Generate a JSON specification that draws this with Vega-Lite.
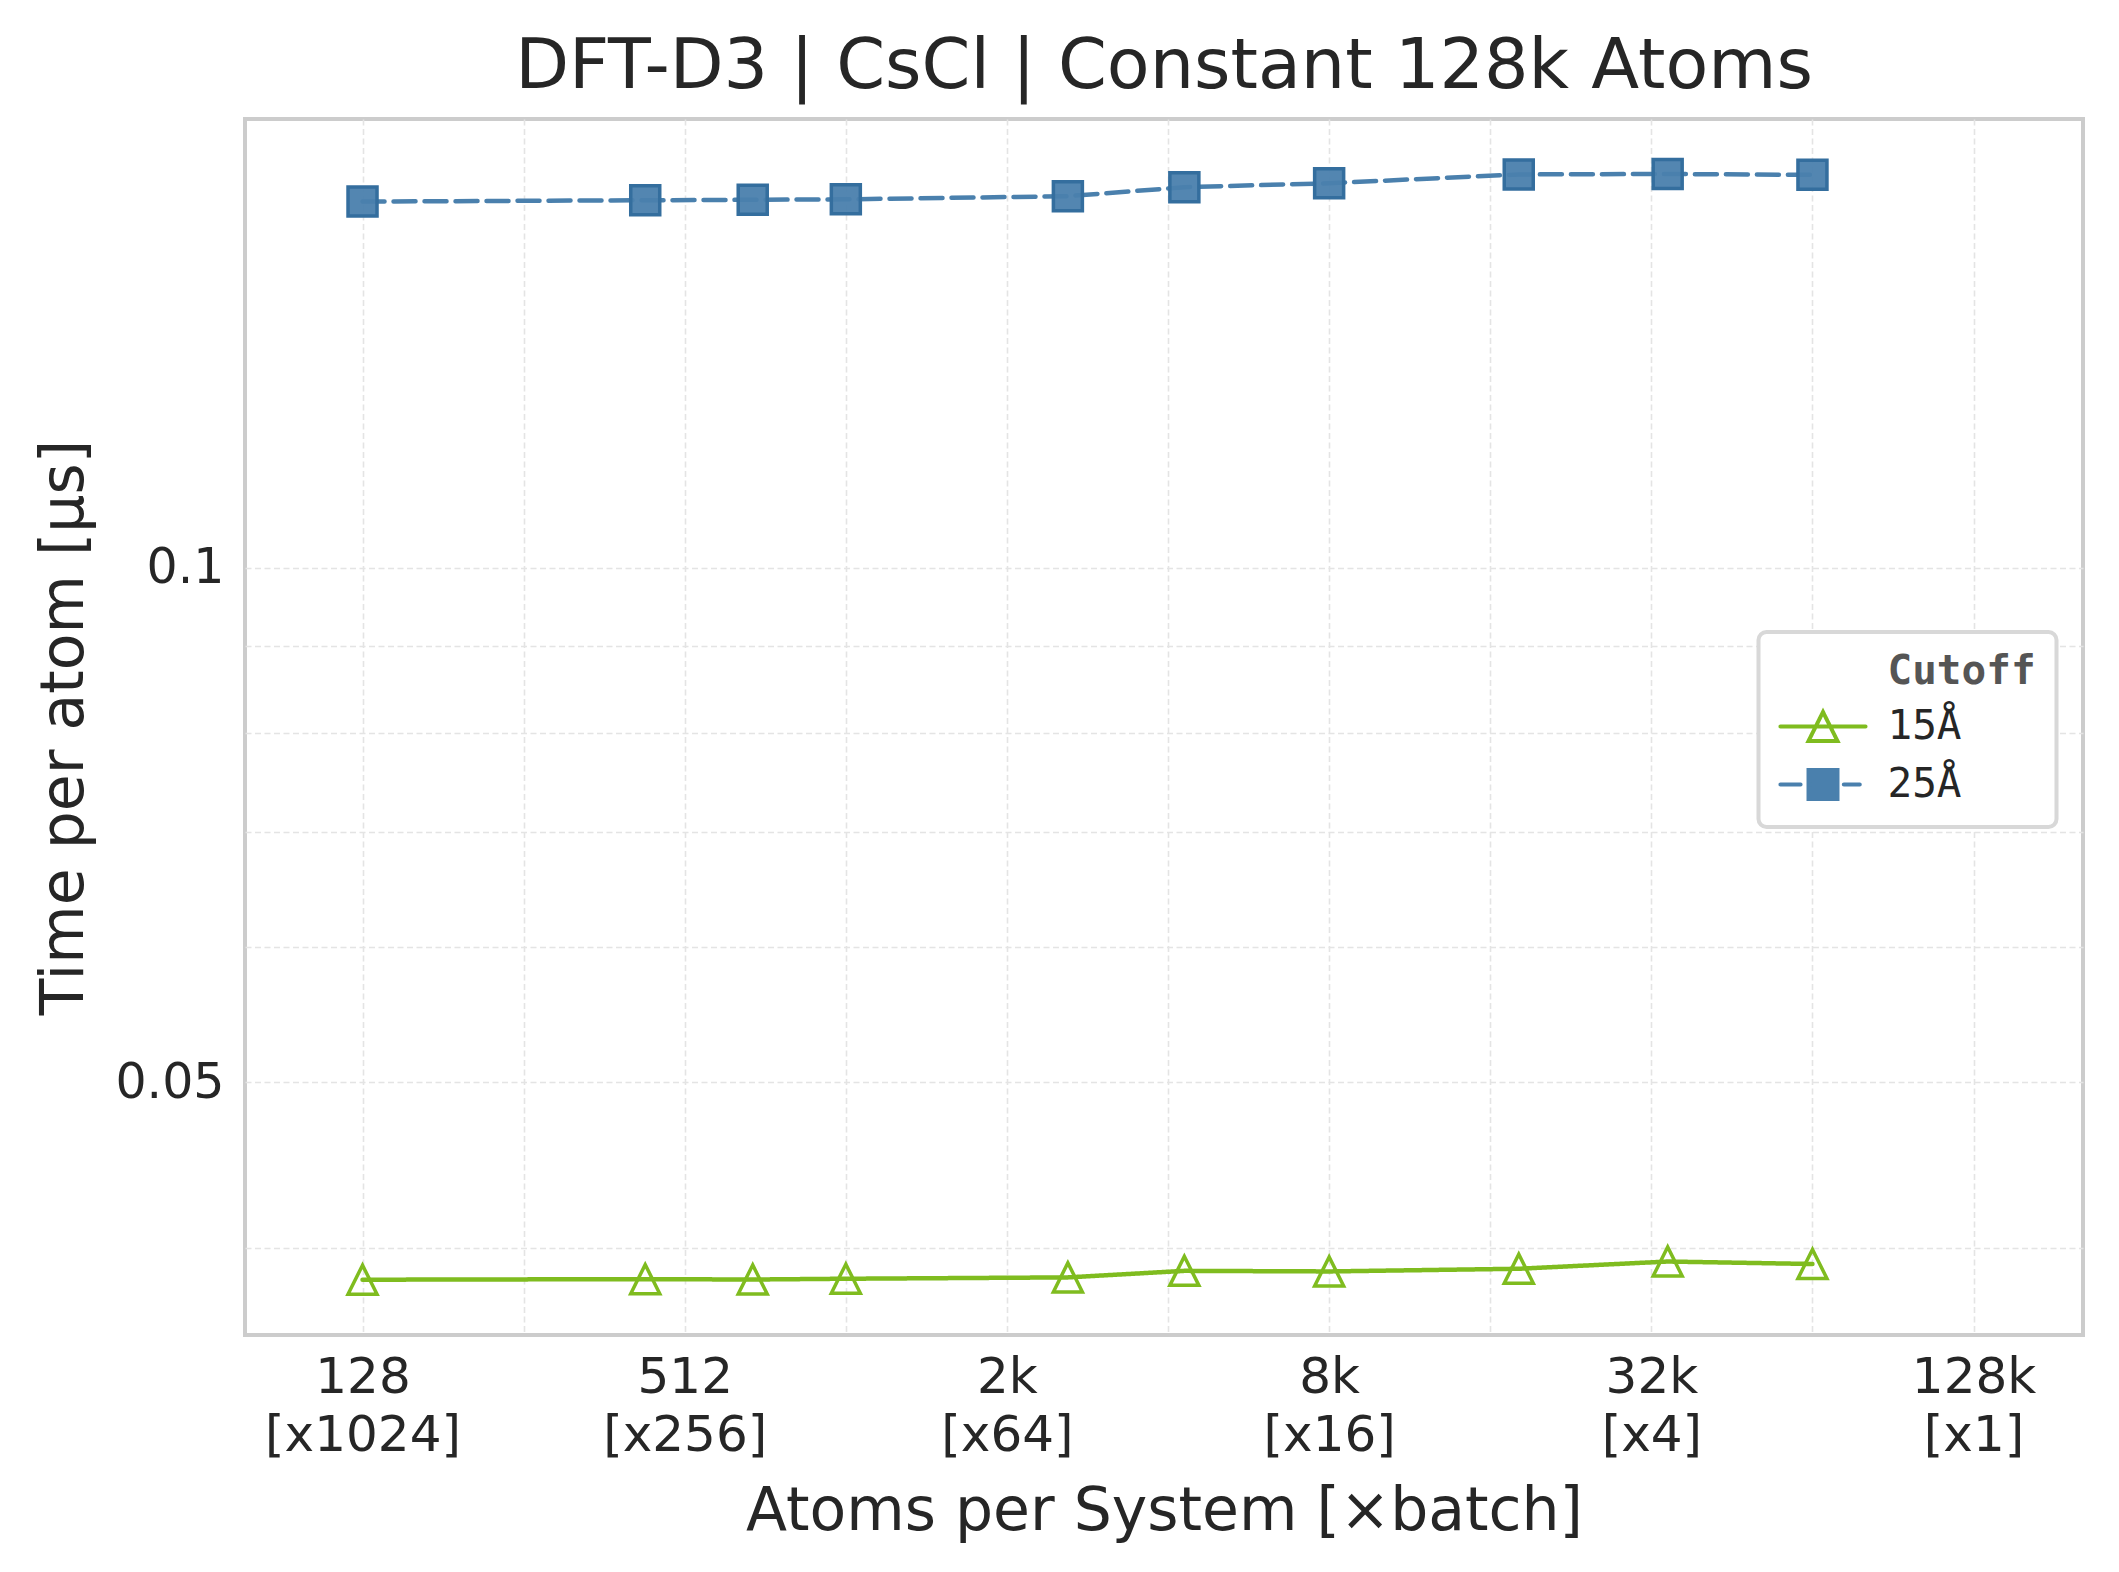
{
  "$schema": "https://vega.github.io/schema/vega-lite/v6.json",
  "width": 1838,
  "height": 1216,
  "autosize": "none",
  "padding": {"left": 245, "top": 119, "right": 36, "bottom": 237},
  "background": "white",
  "title": {
    "text": "DFT-D3 | CsCl | Constant 128k Atoms",
    "font": "DejaVu Sans",
    "fontSize": 70,
    "fontWeight": "normal",
    "color": "#262626",
    "anchor": "middle",
    "frame": "group",
    "offset": 16
  },
  "data": {
    "values": [
      {"atoms": 128, "cutoff": "15Å", "time": 0.03833},
      {"atoms": 432, "cutoff": "15Å", "time": 0.03836},
      {"atoms": 686, "cutoff": "15Å", "time": 0.03834},
      {"atoms": 1024, "cutoff": "15Å", "time": 0.03838},
      {"atoms": 2662, "cutoff": "15Å", "time": 0.03845},
      {"atoms": 4394, "cutoff": "15Å", "time": 0.03879},
      {"atoms": 8192, "cutoff": "15Å", "time": 0.03876},
      {"atoms": 18522, "cutoff": "15Å", "time": 0.0389},
      {"atoms": 35152, "cutoff": "15Å", "time": 0.03928},
      {"atoms": 65536, "cutoff": "15Å", "time": 0.03915},
      {"atoms": 128, "cutoff": "25Å", "time": 0.1637},
      {"atoms": 432, "cutoff": "25Å", "time": 0.164},
      {"atoms": 686, "cutoff": "25Å", "time": 0.1641},
      {"atoms": 1024, "cutoff": "25Å", "time": 0.1642},
      {"atoms": 2662, "cutoff": "25Å", "time": 0.1649},
      {"atoms": 4394, "cutoff": "25Å", "time": 0.1669},
      {"atoms": 8192, "cutoff": "25Å", "time": 0.1678},
      {"atoms": 18522, "cutoff": "25Å", "time": 0.1698},
      {"atoms": 35152, "cutoff": "25Å", "time": 0.1699},
      {"atoms": 65536, "cutoff": "25Å", "time": 0.1697}
    ]
  },
  "encoding": {
    "x": {
      "field": "atoms",
      "type": "quantitative",
      "scale": {"type": "log", "base": 2, "domain": [77.2, 209900], "nice": false, "zero": false},
      "axis": {
        "title": "Atoms per System [×batch]",
        "values": [128, 256, 512, 1024, 2048, 4096, 8192, 16384, 32768, 65536, 131072],
        "labelExpr": "datum.value == 128 ? ['128', '[x1024]'] : datum.value == 512 ? ['512', '[x256]'] : datum.value == 2048 ? ['2k', '[x64]'] : datum.value == 8192 ? ['8k', '[x16]'] : datum.value == 32768 ? ['32k', '[x4]'] : datum.value == 131072 ? ['128k', '[x1]'] : ''",
        "labelPadding": 17,
        "labelLineHeight": 58,
        "labelLimit": 600,
        "labelFlush": false,
        "labelOverlap": false,
        "titleBaseline": "alphabetic",
        "titleY": 194
      }
    },
    "y": {
      "field": "time",
      "type": "quantitative",
      "scale": {"type": "log", "domain": [0.03558, 0.18296], "nice": false, "zero": false},
      "axis": {
        "title": "Time per atom [µs]",
        "values": [0.04, 0.05, 0.06, 0.07, 0.08, 0.09, 0.1],
        "labelExpr": "datum.value == 0.1 ? '0.1' : datum.value == 0.05 ? '0.05' : ''",
        "labelPadding": 21,
        "labelFontSize": 49,
        "labelOverlap": false,
        "titleBaseline": "alphabetic",
        "titleAlign": "center",
        "titleAngle": 270,
        "titleX": -163,
        "titleY": 608
      }
    }
  },
  "layer": [
    {
      "mark": {"type": "line", "strokeWidth": 4.5, "strokeCap": "round"},
      "encoding": {
        "color": {
          "field": "cutoff",
          "type": "nominal",
          "scale": {"domain": ["15Å", "25Å"], "range": ["#7fbc1f", "#4a80ad"]},
          "legend": {
            "title": "Cutoff",
            "orient": "none",
            "legendX": 1513.5,
            "legendY": 513,
            "padding": 20,
            "titlePadding": 13,
            "rowPadding": 13,
            "symbolOffset": 24,
            "labelOffset": 44,
            "encode": {
              "legend": {"update": {"strokeWidth": {"value": 4}}},
              "title": {"update": {"dx": {"value": 109}}},
              "symbols": {
                "update": {
                  "shape": {"signal": "datum.value == '15Å' ? 'M-2.66,0H2.66M0,-0.906L-0.906,0.906L0.906,0.906Z' : 'M-2.66,0H-1.4M1.3,0H2.3M-0.7,0H0.7M-0.906,-0.906H0.906V0.906H-0.906Z'"},
                  "size": {"value": 1024},
                  "fill": {"signal": "datum.value == '15Å' ? 'transparent' : '#4a80ad'"},
                  "stroke": {"signal": "datum.value == '15Å' ? '#7fbc1f' : '#3a72a2'"},
                  "strokeWidth": {"value": 4},
                  "strokeDash": {"value": [1, 0]},
                  "strokeCap": {"value": "round"},
                  "opacity": {"value": 1},
                  "fillOpacity": {"value": 1},
                  "strokeOpacity": {"value": 1}
                }
              }
            }
          }
        },
        "strokeDash": {
          "field": "cutoff",
          "type": "nominal",
          "scale": {"domain": ["25Å", "15Å"], "range": [[22, 9], [1, 0]]},
          "legend": null
        }
      }
    },
    {
      "mark": {"type": "point", "size": 841, "strokeWidth": 3.5, "fillOpacity": 0.95, "opacity": 1},
      "encoding": {
        "shape": {
          "field": "cutoff",
          "type": "nominal",
          "scale": {"domain": ["25Å", "15Å"], "range": ["square", "M0,-1L-1,1L1,1Z"]},
          "legend": null
        },
        "fill": {
          "field": "cutoff",
          "type": "nominal",
          "scale": {"domain": ["25Å", "15Å"], "range": ["#4a80ad", "transparent"]},
          "legend": null
        },
        "stroke": {
          "field": "cutoff",
          "type": "nominal",
          "scale": {"domain": ["25Å", "15Å"], "range": ["#346e9e", "#7fbc1f"]},
          "legend": null
        }
      }
    }
  ],
  "config": {
    "view": {"stroke": "#cccccc", "strokeWidth": 4},
    "axis": {
      "domain": false,
      "ticks": false,
      "tickSize": 0,
      "grid": true,
      "gridColor": "#e4e4e4",
      "gridDash": [6, 3.5],
      "gridWidth": 1.6,
      "labelFont": "DejaVu Sans",
      "labelFontSize": 50,
      "labelColor": "#262626",
      "titleFont": "DejaVu Sans",
      "titleFontSize": 60,
      "titleFontWeight": "normal",
      "titleColor": "#262626"
    },
    "legend": {
      "labelFont": "DejaVu Sans Mono",
      "labelFontSize": 41,
      "labelColor": "#262626",
      "labelLimit": 400,
      "titleFont": "DejaVu Sans Mono",
      "titleFontSize": 41,
      "titleFontWeight": "bold",
      "titleColor": "#555555",
      "titleLimit": 400,
      "strokeColor": "#d8d8d8",
      "fillColor": "white",
      "cornerRadius": 8
    }
  }
}
